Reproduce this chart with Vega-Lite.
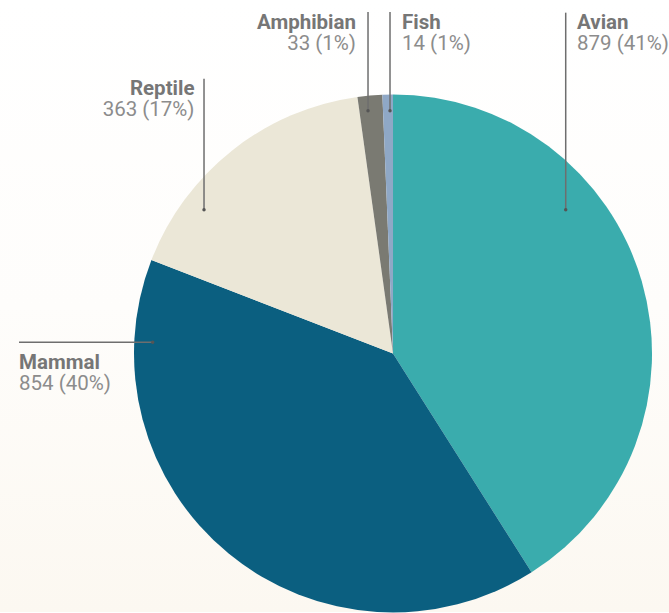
{
  "$schema": "https://vega.github.io/schema/vega-lite/v6.json",
  "width": 669,
  "height": 613,
  "autosize": {"type": "fit", "contains": "padding"},
  "padding": 0,
  "background": "#ffffff",
  "config": {
    "view": {
      "stroke": null,
      "fill": {
        "gradient": "linear",
        "x1": 0, "y1": 0, "x2": 0, "y2": 1,
        "stops": [
          {"offset": 0, "color": "#ffffff"},
          {"offset": 0.5, "color": "#fefdfb"},
          {"offset": 1, "color": "#fcf8f1"}
        ]
      }
    },
    "font": "Roboto"
  },
  "datasets": {
    "slices": [
      {"group": "Avian", "count": 879, "ord": 1},
      {"group": "Mammal", "count": 854, "ord": 2},
      {"group": "Reptile", "count": 363, "ord": 3},
      {"group": "Amphibian", "count": 33, "ord": 4},
      {"group": "Fish", "count": 14, "ord": 5}
    ],
    "labels": [
      {"group": "Avian", "value": "879 (41%)", "lx": 0.7104, "ly": 1.2529, "side": "left"},
      {"group": "Fish", "value": "14 (1%)", "lx": 0.0347, "ly": 1.2529, "side": "left"},
      {"group": "Amphibian", "value": "33 (1%)", "lx": -0.1429, "ly": 1.2529, "side": "right"},
      {"group": "Reptile", "value": "363 (17%)", "lx": -0.7664, "ly": 1.0, "side": "right"},
      {"group": "Mammal", "value": "854 (40%)", "lx": -1.444, "ly": -0.0598, "side": "left"}
    ],
    "leaders": [
      {"group": "Avian", "xa": 0.6668, "ya": 1.3178, "xb": 0.6668, "yb": 0.556},
      {"group": "Fish", "xa": -0.0116, "ya": 1.3205, "xb": -0.0116, "yb": 0.9382},
      {"group": "Amphibian", "xa": -0.0965, "ya": 1.3205, "xb": -0.0965, "yb": 0.9382},
      {"group": "Reptile", "xa": -0.7297, "ya": 1.0618, "xb": -0.7297, "yb": 0.556},
      {"group": "Mammal", "xa": -1.444, "ya": 0.0436, "xb": -0.9278, "yb": 0.0436}
    ]
  },
  "layer": [
    {
      "data": {"name": "slices"},
      "mark": {"type": "arc", "outerRadius": 259},
      "encoding": {
        "theta": {"field": "count", "type": "quantitative", "stack": true},
        "order": {"field": "ord", "type": "quantitative"},
        "color": {
          "field": "group", "type": "nominal",
          "scale": {
            "domain": ["Avian", "Mammal", "Reptile", "Amphibian", "Fish"],
            "range": ["#3aacad", "#0b5f80", "#ebe7d7", "#7a7a72", "#8fa8c6"]
          },
          "legend": null
        },
        "x": {"datum": 0, "type": "quantitative", "scale": {"domain": [-1.5174, 1.0656], "nice": false, "zero": false}, "axis": null},
        "y": {"datum": 0, "type": "quantitative", "scale": {"domain": [-1.0, 1.3668], "nice": false, "zero": false}, "axis": null}
      }
    },
    {
      "data": {"name": "leaders"},
      "mark": {"type": "rule", "color": "#6e6e6e", "strokeWidth": 1.5},
      "encoding": {
        "x": {"field": "xa", "type": "quantitative", "scale": {"domain": [-1.5174, 1.0656], "nice": false, "zero": false}, "axis": null},
        "y": {"field": "ya", "type": "quantitative", "scale": {"domain": [-1.0, 1.3668], "nice": false, "zero": false}, "axis": null},
        "x2": {"field": "xb"},
        "y2": {"field": "yb"}
      }
    },
    {
      "data": {"name": "leaders"},
      "mark": {"type": "circle", "color": "#555555", "size": 12, "opacity": 1},
      "encoding": {
        "x": {"field": "xb", "type": "quantitative", "scale": {"domain": [-1.5174, 1.0656], "nice": false, "zero": false}, "axis": null},
        "y": {"field": "yb", "type": "quantitative", "scale": {"domain": [-1.0, 1.3668], "nice": false, "zero": false}, "axis": null}
      }
    },
    {
      "data": {"name": "labels"},
      "transform": [{"filter": "datum.side == 'left'"}],
      "mark": {"type": "text", "align": "left", "baseline": "alphabetic", "fontWeight": "bold", "fontSize": 20.5, "color": "#767676"},
      "encoding": {
        "x": {"field": "lx", "type": "quantitative", "scale": {"domain": [-1.5174, 1.0656], "nice": false, "zero": false}, "axis": null},
        "y": {"field": "ly", "type": "quantitative", "scale": {"domain": [-1.0, 1.3668], "nice": false, "zero": false}, "axis": null},
        "text": {"field": "group"}
      }
    },
    {
      "data": {"name": "labels"},
      "transform": [{"filter": "datum.side == 'left'"}],
      "mark": {"type": "text", "align": "left", "baseline": "alphabetic", "fontSize": 20.5, "dy": 21, "color": "#8c8c8c"},
      "encoding": {
        "x": {"field": "lx", "type": "quantitative", "scale": {"domain": [-1.5174, 1.0656], "nice": false, "zero": false}, "axis": null},
        "y": {"field": "ly", "type": "quantitative", "scale": {"domain": [-1.0, 1.3668], "nice": false, "zero": false}, "axis": null},
        "text": {"field": "value"}
      }
    },
    {
      "data": {"name": "labels"},
      "transform": [{"filter": "datum.side == 'right'"}],
      "mark": {"type": "text", "align": "right", "baseline": "alphabetic", "fontWeight": "bold", "fontSize": 20.5, "color": "#767676"},
      "encoding": {
        "x": {"field": "lx", "type": "quantitative", "scale": {"domain": [-1.5174, 1.0656], "nice": false, "zero": false}, "axis": null},
        "y": {"field": "ly", "type": "quantitative", "scale": {"domain": [-1.0, 1.3668], "nice": false, "zero": false}, "axis": null},
        "text": {"field": "group"}
      }
    },
    {
      "data": {"name": "labels"},
      "transform": [{"filter": "datum.side == 'right'"}],
      "mark": {"type": "text", "align": "right", "baseline": "alphabetic", "fontSize": 20.5, "dy": 21, "color": "#8c8c8c"},
      "encoding": {
        "x": {"field": "lx", "type": "quantitative", "scale": {"domain": [-1.5174, 1.0656], "nice": false, "zero": false}, "axis": null},
        "y": {"field": "ly", "type": "quantitative", "scale": {"domain": [-1.0, 1.3668], "nice": false, "zero": false}, "axis": null},
        "text": {"field": "value"}
      }
    }
  ]
}
